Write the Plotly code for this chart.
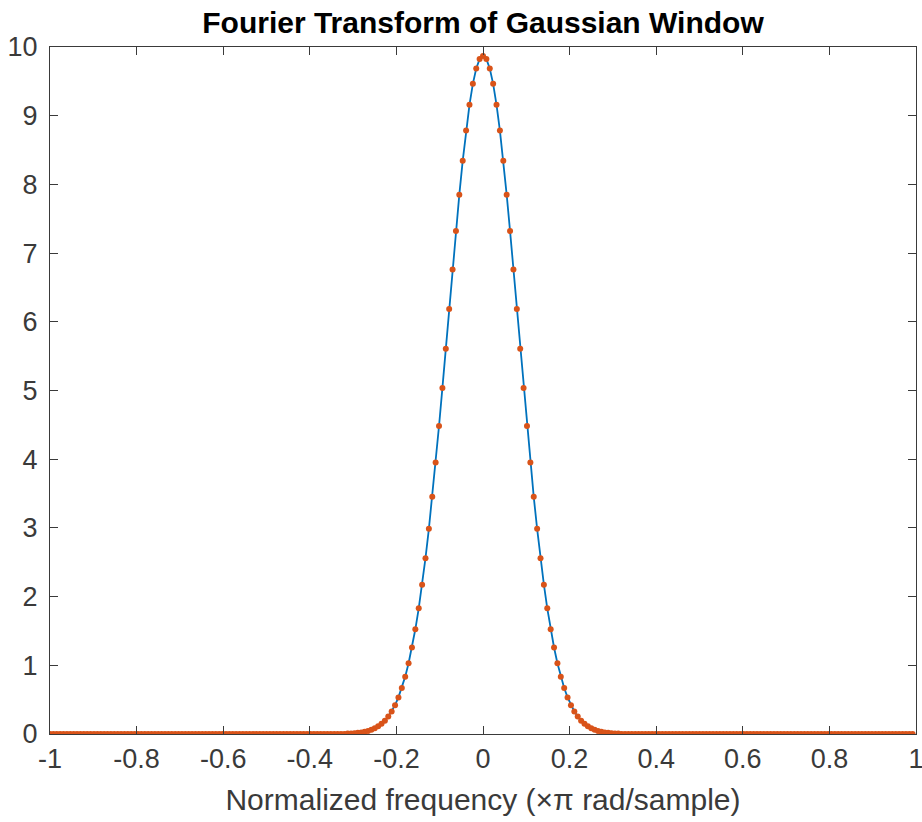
import plotly.graph_objects as go

# Frequency grid (x pi rad/sample), 256 samples from -1 to 1-1/128
freq = [k / 128 for k in range(-128, 128)]

# Magnitude values (centre part, symmetric about 0)
mag_right = [9.870, 9.824, 9.687, 9.464, 9.159, 8.783, 8.343, 7.851, 7.320,
             6.761, 6.187, 5.609, 5.038, 4.483, 3.952, 3.452, 2.986, 2.560,
             2.174, 1.829, 1.524, 1.259, 1.030, 0.835, 0.670, 0.533, 0.420,
             0.328, 0.254, 0.194, 0.148, 0.111, 0.0827, 0.0611, 0.0447,
             0.0324, 0.0232, 0.0165, 0.0116, 0.0081, 0.0056]
mag_left = mag_right[:0:-1]
magnitude = [0.0] * 88 + mag_left + mag_right + [0.0] * 87

x_ticks = [-1, -0.8, -0.6, -0.4, -0.2, 0, 0.2, 0.4, 0.6, 0.8, 1]
x_tick_labels = ["-1", "-0.8", "-0.6", "-0.4", "-0.2", "0", "0.2", "0.4", "0.6", "0.8", "1"]
y_ticks = [0, 1, 2, 3, 4, 5, 6, 7, 8, 9, 10]

FONT = "Liberation Sans, Arial, Helvetica, sans-serif"
AX = "#3a3a3a"

fig = go.Figure()
fig.add_trace(go.Scatter(x=freq, y=magnitude, mode="lines",
                         line=dict(color="#0072BD", width=1.8),
                         showlegend=False, hoverinfo="skip"))
fig.add_trace(go.Scatter(x=freq, y=magnitude, mode="markers",
                         marker=dict(color="#D95319", size=6, line=dict(width=0)),
                         showlegend=False))

fig.update_layout(
    width=922, height=822,
    margin=dict(l=50, r=6, t=47, b=88, autoexpand=False),
    paper_bgcolor="white", plot_bgcolor="white",
    title=dict(text="<b>Fourier Transform of Gaussian Window</b>",
               x=0.5, xref="paper", xanchor="center",
               y=1 - 22 / 822, yref="container", yanchor="middle",
               font=dict(family=FONT, size=30, color="black")),
    font=dict(family=FONT, size=27, color=AX),
)
fig.update_xaxes(range=[-1, 1], tickvals=x_ticks, ticktext=x_tick_labels,
                 showline=True, linecolor=AX, linewidth=1.3, mirror="ticks",
                 ticks="inside", ticklen=8, tickcolor=AX, tickwidth=1.3,
                 showgrid=False, zeroline=False, automargin=False,
                 ticklabeloverflow="allow",
                 tickfont=dict(family=FONT, size=27, color=AX),
                 title=dict(text="Normalized frequency (×π rad/sample)",
                            font=dict(family=FONT, size=30, color=AX), standoff=16))
fig.update_yaxes(range=[0, 10], tickvals=y_ticks,
                 showline=True, linecolor=AX, linewidth=1.3, mirror="ticks",
                 ticks="inside", ticklen=8, tickcolor=AX, tickwidth=1.3,
                 showgrid=False, zeroline=False, automargin=False,
                 ticklabelstandoff=6,
                 tickfont=dict(family=FONT, size=27, color=AX))

fig.write_html("out.html", config={"displayModeBar": False},
               post_script="document.body.style.margin='0';document.body.style.overflow='hidden';")
